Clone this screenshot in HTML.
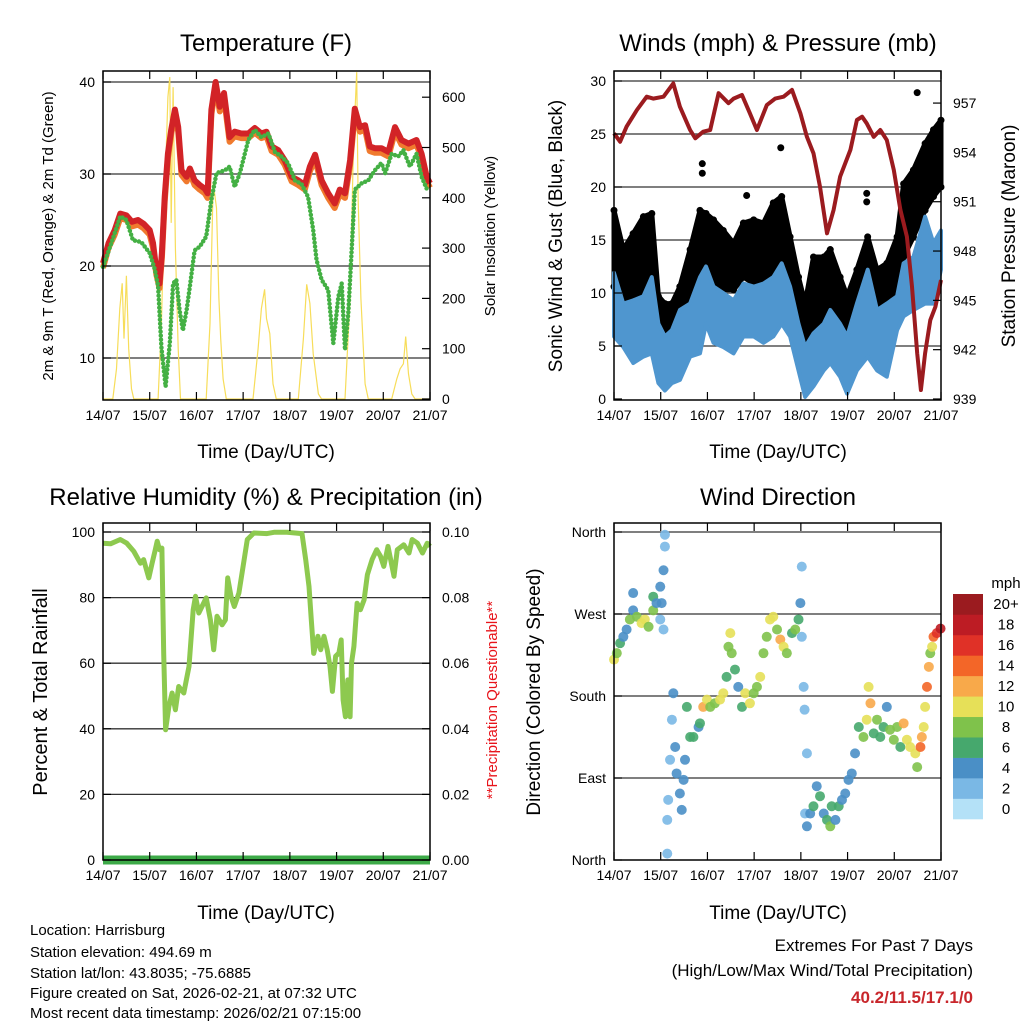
<!DOCTYPE html>
<html><head><meta charset="utf-8"><style>
html,body{margin:0;padding:0;background:#fff;}
svg{display:block;font-family:"Liberation Sans",sans-serif;}
</style></head><body>
<svg id="s" width="1024" height="1024" viewBox="0 0 1024 1024" xmlns="http://www.w3.org/2000/svg">
<g id="g"></g>
<text x="266" y="51" font-size="24" text-anchor="middle">Temperature (F)</text>
<text x="778" y="51" font-size="24" text-anchor="middle">Winds (mph) &amp; Pressure (mb)</text>
<text x="266" y="505" font-size="24" text-anchor="middle">Relative Humidity (%) &amp; Precipitation (in)</text>
<text x="778" y="505" font-size="24" text-anchor="middle">Wind Direction</text>
<text x="266" y="458" font-size="19" text-anchor="middle">Time (Day/UTC)</text>
<text x="778" y="458" font-size="19" text-anchor="middle">Time (Day/UTC)</text>
<text x="266" y="919" font-size="19" text-anchor="middle">Time (Day/UTC)</text>
<text x="778" y="919" font-size="19" text-anchor="middle">Time (Day/UTC)</text>
<text transform="translate(53,236) rotate(-90)" font-size="15" text-anchor="middle">2m &amp; 9m T (Red, Orange) &amp; 2m Td (Green)</text>
<text transform="translate(495,236) rotate(-90)" font-size="15" text-anchor="middle">Solar Insolation (Yellow)</text>
<text transform="translate(562,236) rotate(-90)" font-size="19" text-anchor="middle">Sonic Wind &amp; Gust (Blue, Black)</text>
<text transform="translate(1015,236) rotate(-90)" font-size="19" text-anchor="middle">Station Pressure (Maroon)</text>
<text transform="translate(47,692) rotate(-90)" font-size="20" text-anchor="middle">Percent &amp; Total Rainfall</text>
<text transform="translate(497,700) rotate(-90)" font-size="15" fill="#e8141b" text-anchor="middle">**Precipitation Questionable**</text>
<text transform="translate(540,692) rotate(-90)" font-size="19" text-anchor="middle">Direction (Colored By Speed)</text>
<g font-size="15">
<text x="30" y="935">Location: Harrisburg</text>
<text x="30" y="957">Station elevation: 494.69 m</text>
<text x="30" y="978">Station lat/lon: 43.8035; -75.6885</text>
<text x="30" y="998">Figure created on Sat, 2026-02-21, at 07:32 UTC</text>
<text x="30" y="1018">Most recent data timestamp: 2026/02/21 07:15:00</text>
</g>
<text x="973" y="951" font-size="17" text-anchor="end">Extremes For Past 7 Days</text>
<text x="973" y="976" font-size="17" text-anchor="end">(High/Low/Max Wind/Total Precipitation)</text>
<text x="973" y="1003" font-size="17" font-weight="bold" fill="#c8262b" text-anchor="end">40.2/11.5/17.1/0</text>
</svg>
<script>
const dayLabels=["14/07","15/07","16/07","17/07","18/07","19/07","20/07","21/07"];
const tempT=[0,.12,.25,.37,.5,.62,.75,.87,1,1.07,1.14,1.21,1.26,1.32,1.39,1.46,1.54,1.61,1.68,1.79,1.86,1.96,2.07,2.18,2.24,2.32,2.41,2.5,2.59,2.71,2.82,2.96,3.11,3.25,3.39,3.5,3.61,3.75,3.89,4.04,4.18,4.32,4.43,4.54,4.68,4.82,4.96,5.07,5.18,5.29,5.39,5.5,5.61,5.71,5.82,5.96,6.11,6.25,6.39,6.54,6.71,6.82,6.93,7];
const tempV=[20.3,22.5,23.9,25.7,25.5,24.8,25,24.6,23.9,22.5,19.6,18.1,21.4,27.5,32.2,34.8,37,35.1,30.4,29.7,30.6,29.3,28.8,28.4,27.9,37,40,37.3,38.8,34,34.6,34.4,34.4,35,34.4,34.6,33,32.6,31.5,29.7,29.3,28.8,30.8,32.1,29.3,27.9,26.8,28.3,27.9,31.5,37.1,35.1,35.3,33,32.8,32.8,32.4,35.1,33.7,33.3,33.7,32.2,29.7,29];
const dewT=[0,.18,.37,.5,.64,.82,1,1.11,1.18,1.25,1.34,1.43,1.5,1.57,1.64,1.71,1.79,1.86,1.96,2.07,2.21,2.32,2.43,2.61,2.71,2.82,2.93,3.11,3.25,3.39,3.54,3.68,3.82,3.96,4.11,4.25,4.39,4.5,4.57,4.68,4.82,4.93,5.04,5.11,5.18,5.25,5.32,5.39,5.54,5.68,5.82,5.96,6.04,6.18,6.32,6.43,6.57,6.71,6.82,6.93,7];
const dewV=[19.9,22.5,25.4,25,22.8,22.6,21.4,19.6,17.8,11.2,6.9,11.6,18.1,18.5,15.2,13,15.2,17.8,21.7,22.1,23.2,27.2,30.1,30.4,30.8,28.6,30.1,33.7,34.8,34,34.4,32.4,31.9,31.2,29.3,28.9,27.5,23.9,20.7,18.5,17.4,11.6,16.7,18.1,10.9,14.9,21.4,28.3,29,29.3,30.4,31.2,30.1,32.2,31.9,32.6,30.8,32.2,29.7,28.4,28.3];
const solarT=[0,.21,.29,.36,.41,.45,.5,.55,.61,.66,1.18,1.25,1.32,1.39,1.43,1.46,1.5,1.55,1.61,1.66,2.21,2.29,2.36,2.43,2.48,2.52,2.57,2.64,3.21,3.32,3.39,3.46,3.5,3.57,3.64,3.71,4.18,4.29,4.36,4.43,4.5,4.61,4.68,5.18,5.29,5.36,5.43,5.46,5.52,5.61,5.68,6.18,6.29,6.36,6.43,6.48,6.54,6.61,6.68,7];
const solarV=[0,0,60,180,230,120,245,100,20,0,0,150,400,600,640,350,620,300,100,0,0,150,430,380,200,120,40,0,0,100,180,218,160,130,30,0,0,120,228,190,90,10,0,0,200,500,650,400,200,30,0,0,40,60,70,124,50,10,0,0];
const windT=[0,.2,.41,.63,.81,.95,1.09,1.24,1.41,1.63,1.84,1.97,2.13,2.34,2.56,2.77,2.99,3.2,3.41,3.59,3.77,3.95,4.09,4.27,4.49,4.63,4.84,4.99,5.2,5.43,5.63,5.84,6.06,6.2,6.41,6.66,6.84,7];
const windHi=[11.9,9,9.3,9.7,11.5,7.1,5.9,6.5,8.4,9,11.5,12.5,10.6,10,9.3,10.9,10.6,10.9,11.5,12.8,10.6,7.1,4.9,6.2,7.1,8.4,7.1,5.9,9,12.2,8.4,9,9.7,12.8,13.4,17.2,14.7,15.9];
const windLo=[5.9,4.9,3.4,4,4.3,1.5,.8,1.5,1.8,4,4.3,7.1,5.3,4.9,4.3,5.9,5.9,5.3,5.9,7.1,5.9,2.7,.2,1.2,2.7,3.4,2.1,.5,2.7,4,2.7,2.1,6.5,7.8,8.4,9,9,12.2];
const gustHi=[17.8,14.1,15.6,17.2,17.5,9.7,9,9,10.6,14.1,17.8,17.5,16.9,15.9,14.7,16.6,16.9,16.6,18.5,19.1,15.3,11.5,9,13.4,13.4,14.1,11.5,9.7,12.2,15.3,12.2,12.8,15.3,20.3,21.6,24.1,25.4,26.3];
const gustLo=[10.6,7.1,9,10.3,10.9,5.3,3.4,3.1,5.3,7.5,10.6,11.5,10.9,10.3,10.3,11.5,10.9,10.9,12.2,11.5,9,5.9,3.7,6.5,7.1,7.8,5.9,4.3,5.9,9,7.1,8.4,10.3,13.4,15.3,17.8,19.1,20];
const gustOutT=[6.49,3.57,1.89,1.89,2.84,5.41,5.41];
const gustOutV=[28.9,23.7,22.2,21.3,19.2,19.4,18.6];
const presT=[0,.13,.27,.49,.7,.84,1.06,1.27,1.41,1.63,1.74,1.91,2.06,2.24,2.45,2.56,2.74,2.91,3.06,3.27,3.45,3.63,3.81,3.99,4.13,4.27,4.41,4.56,4.7,4.84,5.06,5.2,5.31,5.41,5.56,5.7,5.84,5.99,6.13,6.27,6.38,6.49,6.57,6.66,6.77,6.88,7];
const presV=[955.16,954.65,955.57,956.58,957.39,957.27,957.39,958.2,956.78,955.36,954.86,955.26,955.36,957.6,956.99,957.27,957.49,956.38,955.36,956.88,957.27,957.39,957.8,956.38,954.95,953.94,951.91,949.08,950.5,952.52,954.15,955.97,956.17,955.77,954.95,955.36,954.75,952.93,950.5,948.87,945.83,941.78,939.55,941.78,943.8,944.61,946.24];
const rhT=[0,.16,.37,.51,.66,.8,.87,.98,1.05,1.12,1.16,1.21,1.26,1.3,1.34,1.41,1.48,1.55,1.62,1.73,1.84,1.93,1.98,2.05,2.12,2.21,2.3,2.37,2.44,2.55,2.62,2.67,2.74,2.81,2.91,3,3.09,3.23,3.51,3.66,3.94,4.26,4.34,4.41,4.46,4.51,4.6,4.66,4.73,4.8,4.86,4.91,4.98,5.05,5.1,5.14,5.19,5.24,5.29,5.32,5.37,5.44,5.51,5.59,5.66,5.76,5.86,5.94,6.01,6.1,6.23,6.3,6.44,6.55,6.62,6.73,6.84,6.94,7];
const rhV=[96.6,96.4,97.7,96.6,94.1,90.5,91.6,86,90.5,94.6,97.2,94.6,95.1,63,39.7,46.8,50.9,45.8,52.9,50.9,59,76.3,80.4,75.3,77.3,79.9,73.2,64.1,74.3,71.7,73.2,86,80.4,77.3,81.4,89.5,97.7,99.7,99.5,99.9,99.9,99.5,91.6,83.4,73.2,63,68.2,64.1,68.2,64.1,59,51.4,62.1,63.1,67.1,48.8,43.7,54.9,43.7,60,65.1,78.3,76.3,79.3,87,91.6,94.6,92.6,89.5,95.6,86.5,94.6,96.1,93.6,97.7,96.6,93.6,96.6,95.6];
const precipT=[0,7];
const precipV=[0,0];
const dirT=[0,.06,.13,.2,.27,.34,.41,.41,.49,.59,.66,.74,.84,.84,.91,.99,1.02,.99,1.06,1.09,1.09,1.06,1.14,1.14,1.16,1.2,1.24,1.27,1.31,1.34,1.41,1.45,1.49,1.52,1.56,1.63,1.7,1.81,1.84,1.91,1.99,2.06,2.16,2.27,2.34,2.41,2.45,2.49,2.52,2.59,2.66,2.74,2.81,2.91,2.99,3.06,3.13,3.2,3.27,3.34,3.41,3.49,3.56,3.63,3.7,3.81,3.88,3.95,3.99,4.02,4.02,4.06,4.08,4.13,4.09,4.13,4.2,4.27,4.34,4.41,4.49,4.56,4.63,4.66,4.74,4.81,4.88,4.95,5.02,5.09,5.16,5.24,5.34,5.41,5.45,5.49,5.56,5.63,5.7,5.77,5.84,5.91,5.99,6.06,6.13,6.2,6.27,6.34,6.45,6.49,6.56,6.59,6.63,6.66,6.7,6.74,6.77,6.81,6.84,6.91,6.99];
const dirV=[220,227,238,245,253,264,274,293,267,260,264,256,274,289,282,300,282,264,318,344,357,253,7,44,66,110,154,183,124,95,73,55,88,110,168,135,135,146,150,168,176,168,172,176,183,201,234,249,227,209,190,168,183,172,183,190,201,227,245,264,267,253,242,234,227,249,253,264,282,245,322,190,165,117,51,37,51,59,81,70,51,44,37,59,44,59,66,73,88,95,117,146,135,154,190,172,139,154,135,146,168,143,132,146,124,150,132,124,117,102,124,135,146,168,190,212,227,234,245,249,254];
const dirS=[10,7,5,4,4,7,4,3,8,9,10,7,7,6,4,4,3,2,3,2,2,1,1,1,2,1,2,3,4,4,4,4,4,4,6,6,6,4,5,12,10,8,8,10,9,6,8,10,8,6,4,6,10,10,8,8,10,7,8,10,9,8,12,10,8,6,7,6,3,2,1,1,2,1,1,3,3,6,4,6,3,6,8,5,4,6,4,4,4,4,3,6,8,10,9,12,6,8,6,6,4,7,7,8,6,12,10,10,9,7,14,12,10,9,14,12,8,10,14,16,18];
const cbLabels=["0","2","4","6","8","10","12","14","16","18","20+"];
const cbColors=["#b4e1f7","#7ab8e5","#4a8fc6","#46a86d","#7fc24b","#e6e058","#f8a94a","#f36628","#e03127","#bd1c24","#9b1b1f"];

const NS="http://www.w3.org/2000/svg";
const root=document.getElementById('g');
function el(tag,attrs,parent){const e=document.createElementNS(NS,tag);for(const k in attrs)e.setAttribute(k,attrs[k]);(parent||root).appendChild(e);return e;}
function txt(x,y,s,size,anchor,parent){const t=el('text',{x:x,y:y,'font-size':size,'text-anchor':anchor},parent);t.textContent=s;return t;}
function pts(T,V,xf,yf){return T.map((t,i)=>xf(t).toFixed(1)+','+yf(V[i]).toFixed(1)).join(' ');}

function panel(name,x0,x1,top,bot,yl,grid){
  const g=el('g',{});
  
  
  const xf=d=>x0+(x1-x0)*d/7;
  grid.forEach(v=>{const l=el('line',{x1:x0,x2:x1,y1:yl(v),y2:yl(v),stroke:'#333','stroke-width':1.3},g);
    });
  return {g,xf};
}
function frame(g,x0,x1,top,bot,yl,lt,ltl,yr,rt,rtl,xf){
  const f=el('rect',{x:x0,y:top,width:x1-x0,height:bot-top,fill:'none',stroke:'#000','stroke-width':1.5},g);
  
  dayLabels.forEach((s,i)=>{const x=xf(i);
    el('line',{x1:x,x2:x,y1:bot,y2:bot-8,stroke:'#000','stroke-width':1.2},g);
    el('line',{x1:x,x2:x,y1:top,y2:top+8,stroke:'#000','stroke-width':1.2},g);
    const t=txt(x,bot+20,s,14,'middle',g);
    });
  lt.forEach((v,i)=>{const y=yl(v);
    el('line',{x1:x0,x2:x0+8,y1:y,y2:y,stroke:'#000','stroke-width':1.2},g);
    const t=txt(x0-8,y+5,ltl[i],14,'end',g);
    });
  if(rt){rt.forEach((v,i)=>{const y=yr(v);
    el('line',{x1:x1,x2:x1-8,y1:y,y2:y,stroke:'#000','stroke-width':1.2},g);
    const t=txt(x1+12,y+5,rtl[i],14,'start',g);
    });}
}

// Panel 1 temperature
(function(){
  const x0=103,x1=430,top=71,bot=400;
  const yl=v=>358-(v-10)*9.2, yr=v=>399-v*0.503;
  const {g,xf}=panel('temperature-panel',x0,x1,top,bot,yl,[10,20,30,40]);
  const sol=el('polyline',{points:pts(solarT,solarV,xf,yr),fill:'none',stroke:'#f7dd5a','stroke-width':1.2},g);
  
  const orT=tempV.map(v=>v-0.5);
  const o=el('polyline',{points:pts(tempT,orT,xf,yl),fill:'none',stroke:'#f07a2e','stroke-width':6,'stroke-linejoin':'round'},g);
  
  const r=el('polyline',{points:pts(tempT,tempV,xf,yl),fill:'none',stroke:'#d22327','stroke-width':6,'stroke-linejoin':'round'},g);
  
  const d=el('polyline',{points:pts(dewT,dewV,xf,yl),fill:'none',stroke:'#44b044','stroke-width':4.5,'stroke-linecap':'round','stroke-dasharray':'0 4'},g);
  
  frame(g,x0,x1,top,bot,yl,[10,20,30,40],["10","20","30","40"],yr,[0,100,200,300,400,500,600],["0","100","200","300","400","500","600"],xf);
})();

// Panel 2 winds
(function(){
  const x0=614,x1=941,top=71,bot=400;
  const yl=v=>399-v*10.6, yr=v=>399-(v-939)*16.44;
  const {g,xf}=panel('winds-panel',x0,x1,top,bot,yl,[5,10,15,20,25,30]);
  const band=(T,H,L)=>pts(T,H,xf,yl)+' '+pts(T.slice().reverse(),L.slice().reverse(),xf,yl);
  const gb=el('polygon',{points:band(windT,gustHi,gustLo),fill:'#000',stroke:'#000','stroke-width':5,'stroke-linejoin':'round'},g);
  
  windT.forEach((t,i)=>{
    const c=el('circle',{cx:xf(t),cy:yl(gustHi[i]),r:3.5,fill:'#000'},g);
    
    const c2=el('circle',{cx:xf(t),cy:yl(gustLo[i]),r:3.5,fill:'#000'},g);
    });
  gustOutT.forEach((t,i)=>{
    const c=el('circle',{cx:xf(t),cy:yl(gustOutV[i]),r:3.5,fill:'#000'},g);
    });
  const wb=el('polygon',{points:band(windT,windHi,windLo),fill:'#4f96cf',stroke:'#4f96cf','stroke-width':4,'stroke-linejoin':'round'},g);
  
  const p=el('polyline',{points:pts(presT,presV,xf,yr),fill:'none',stroke:'#9b1b1f','stroke-width':4,'stroke-linejoin':'round'},g);
  
  frame(g,x0,x1,top,bot,yl,[0,5,10,15,20,25,30],["0","5","10","15","20","25","30"],yr,[939,942,945,948,951,954,957],["939","942","945","948","951","954","957"],xf);
})();

// Panel 3 RH
(function(){
  const x0=103,x1=430,top=523,bot=860;
  const yl=v=>860-v*3.28, yr=v=>860-v*3280;
  const {g,xf}=panel('humidity-panel',x0,x1,top,bot,yl,[20,40,60,80,100]);
  const pr=el('polyline',{points:pts(precipT,precipV,xf,yr),fill:'none',stroke:'#3daa48','stroke-width':9},g);
  
  const r=el('polyline',{points:pts(rhT,rhV,xf,yl),fill:'none',stroke:'#8dc94f','stroke-width':5,'stroke-linejoin':'round'},g);
  
  frame(g,x0,x1,top,bot,yl,[0,20,40,60,80,100],["0","20","40","60","80","100"],yr,[0,.02,.04,.06,.08,.1],["0.00","0.02","0.04","0.06","0.08","0.10"],xf);
})();

// Panel 4 wind direction
(function(){
  const x0=614,x1=941,top=523,bot=860;
  const yl=v=>860-v*0.9111;
  const {g,xf}=panel('wind-direction-panel',x0,x1,top,bot,yl,[90,180,270,360]);
  const col=s=>cbColors[Math.min(10,Math.max(0,Math.round(s/2)))];
  dirT.forEach((t,i)=>{
    const c=el('circle',{cx:xf(t),cy:yl(dirV[i]),r:5,fill:col(dirS[i]),'fill-opacity':0.9},g);
    });
  frame(g,x0,x1,top,bot,yl,[0,90,180,270,360],["North","East","South","West","North"],null,null,null,xf);
  const cb=el('g',{});
  
  const h=225/11;
  cbColors.forEach((c,i)=>{const y=819-(i+1)*h;
    const r=el('rect',{x:953,y:y,width:30,height:h+0.3,fill:c},cb);
    
    const t=txt(1006,y+h/2+5,cbLabels[i],15,'middle',cb);
    });
  const u=txt(1006,588,'mph',15,'middle',cb);
  
})();
</script>
</body></html>
